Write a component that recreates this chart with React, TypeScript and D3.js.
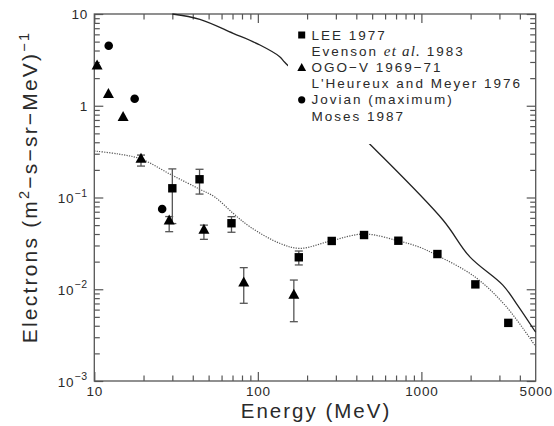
import React, { useRef, useEffect } from "react";
import * as d3 from "d3";

// LEE 1977 (Evenson et al. 1983)
const leeEnergy = [30, 44, 69, 178, 283, 446, 723, 1253, 2138, 3400];
const leeFlux = [0.126, 0.158, 0.0524, 0.0223, 0.0336, 0.039, 0.0338, 0.0242, 0.0113, 0.0043];
const leeLow = [0.052, 0.109, 0.0418, 0.0184, null, null, null, null, null, null];
const leeHigh = [0.205, 0.203, 0.0618, 0.0261, null, null, null, null, null, null];

// OGO-V 1969-71 (L'Heureux and Meyer 1976)
const ogoEnergy = [10.4, 12.2, 15.0, 19.3, 28.7, 46.8, 82, 166];
const ogoFlux = [2.73, 1.34, 0.75, 0.263, 0.0558, 0.0443, 0.0118, 0.00866];
const ogoLow = [null, null, null, 0.22, 0.0424, 0.035, 0.00703, 0.00443];
const ogoHigh = [null, null, null, 0.29, 0.062, 0.05, 0.0172, 0.0126];

// Jovian (maximum), Moses 1987
const jovianEnergy = [12.25, 17.65, 26.0];
const jovianFlux = [4.51, 1.19, 0.075];

// dotted model curve
const modelEnergy = [10, 14, 19.3, 29.7, 43.8, 54.6, 70.6, 89.4, 136, 181, 282, 446, 718, 977, 1236, 2118, 3304, 5000];
const modelFlux = [0.321, 0.298, 0.263, 0.176, 0.124, 0.101, 0.0673, 0.048, 0.0317, 0.0279, 0.0338, 0.04, 0.0338, 0.0287, 0.0236, 0.0137, 0.00646, 0.00237];

// solid curve
const upperEnergy = [30, 44.2, 70.6, 103, 136, 146, 250, 495, 1355, 1972, 3148, 3802, 5000];
const upperFlux = [10, 8.75, 6.16, 4.59, 3.43, 2.98, 1.2, 0.367, 0.0569, 0.0227, 0.0111, 0.00703, 0.0034];

const xTickLabels = [10, 100, 1000, 5000];
const yTickExps = [1, 0, -1, -2, -3];

const legendRows = [
  { symbol: "square", lines: ["LEE 1977", "Evenson|et al.|1983"] },
  { symbol: "triangle", lines: ["OGO\u2212V 1969\u221271", "L'Heureux and Meyer 1976"] },
  { symbol: "circle", lines: ["Jovian (maximum)", "Moses 1987"] },
];

const font = "'Liberation Sans', Arial, Helvetica, sans-serif";
const textColor = "#2a2a2a";
const trianglePath = (s: number) => `M0,${-s * 0.62}L${s * 0.55},${s * 0.38}L${-s * 0.55},${s * 0.38}Z`;

const App = () => {
  const svgRef = useRef<SVGSVGElement>(null);

  useEffect(() => {
    const svg = d3.select(svgRef.current);
    svg.selectAll("*").remove();

    const W = 554;
    const H = 426;
    const left = 94.3, right = 535.7, top = 14, bottom = 381;

    const x = d3.scaleLog().domain([10, 5000]).range([left, right]);
    const y = d3.scaleLog().domain([1e-3, 10]).range([bottom, top]);

    svg.attr("width", W).attr("height", H);
    svg.append("rect").attr("width", W).attr("height", H).attr("fill", "#fff");

    // ticks, all pointing inward
    const majorX = [10, 100, 1000];
    const minorX: number[] = [];
    [10, 100, 1000].forEach((d) => d3.range(2, 10).forEach((m) => d * m < 5000 && minorX.push(d * m)));
    const majorY = [1e-3, 1e-2, 1e-1, 1, 10];
    const minorY: number[] = [];
    [1e-3, 1e-2, 1e-1, 1].forEach((d) => d3.range(2, 10).forEach((m) => minorY.push(d * m)));

    const axisColor = "#555";
    const addAxis = (axis: any, tx: number, ty: number) => {
      const g = svg.append("g").attr("transform", `translate(${tx},${ty})`).call(axis);
      g.select(".domain").remove();
      g.selectAll("text").remove();
      g.selectAll("line").attr("stroke", axisColor).attr("stroke-width", 1.2);
    };
    const axes: [any, number, number, number[], number[]][] = [
      [d3.axisBottom, 0, bottom, minorX, majorX],
      [d3.axisTop, 0, top, minorX, majorX],
      [d3.axisLeft, left, 0, minorY, majorY],
      [d3.axisRight, right, 0, minorY, majorY],
    ];
    axes.forEach(([make, tx, ty, minor, major], i) => {
      const sc = i < 2 ? x : y;
      addAxis(make(sc).tickValues(minor).tickSize(-5.5), tx, ty);
      addAxis(make(sc).tickValues(major).tickSize(-9), tx, ty);
    });

    svg
      .append("rect")
      .attr("x", left)
      .attr("y", top)
      .attr("width", right - left)
      .attr("height", bottom - top)
      .attr("fill", "none")
      .attr("stroke", axisColor)
      .attr("stroke-width", 1.3);

    // curves
    const line = d3
      .line<[number, number]>()
      .x((d) => x(d[0]))
      .y((d) => y(d[1]))
      .curve(d3.curveCatmullRom);

    const plot = svg.append("g");
    plot
      .append("path")
      .datum(modelEnergy.map((e, i) => [e, modelFlux[i]] as [number, number]))
      .attr("d", line)
      .attr("fill", "none")
      .attr("stroke", "#555")
      .attr("stroke-width", 1.2)
      .attr("stroke-dasharray", "1.2,1.3");

    plot
      .append("path")
      .datum(upperEnergy.map((e, i) => [e, upperFlux[i]] as [number, number]))
      .attr("d", line)
      .attr("fill", "none")
      .attr("stroke", "#222")
      .attr("stroke-width", 1.3);

    // error bars
    const errorBars = (en: number[], lo: (number | null)[], hi: (number | null)[]) => {
      en.forEach((e, i) => {
        const l = lo[i], h = hi[i];
        if (l == null || h == null) return;
        const cx = x(e);
        const g = plot.append("g").attr("stroke", "#555").attr("stroke-width", 1.3);
        g.append("line").attr("x1", cx).attr("x2", cx).attr("y1", y(l)).attr("y2", y(h));
        g.append("line").attr("x1", cx - 4).attr("x2", cx + 4).attr("y1", y(l)).attr("y2", y(l));
        g.append("line").attr("x1", cx - 4).attr("x2", cx + 4).attr("y1", y(h)).attr("y2", y(h));
      });
    };
    errorBars(leeEnergy, leeLow, leeHigh);
    errorBars(ogoEnergy, ogoLow, ogoHigh);

    // markers
    leeEnergy.forEach((e, i) => {
      plot
        .append("rect")
        .attr("x", x(e) - 4.2)
        .attr("y", y(leeFlux[i]) - 4.2)
        .attr("width", 8.4)
        .attr("height", 8.4)
        .attr("fill", "#000");
    });
    ogoEnergy.forEach((e, i) => {
      plot
        .append("path")
        .attr("transform", `translate(${x(e)},${y(ogoFlux[i])})`)
        .attr("d", trianglePath(10))
        .attr("fill", "#000");
    });
    jovianEnergy.forEach((e, i) => {
      plot
        .append("circle")
        .attr("cx", x(e))
        .attr("cy", y(jovianFlux[i]))
        .attr("r", 4.3)
        .attr("fill", "#000");
    });

    // legend (white box hides the solid curve behind it)
    const lg = svg.append("g");
    lg.append("rect").attr("x", 288).attr("y", 24).attr("width", 232).attr("height", 120).attr("fill", "#fff");
    const lx = 301.7, tx = 311.5, base0 = 39.5, step = 16.2;
    legendRows.forEach((row, ri) => {
      const b = base0 + step * 2 * ri;
      const cy = b - 4.5;
      if (row.symbol === "square") {
        lg.append("rect").attr("x", lx - 3.5).attr("y", cy - 3.5).attr("width", 7).attr("height", 7).attr("fill", "#000");
      } else if (row.symbol === "triangle") {
        lg.append("path").attr("transform", `translate(${lx},${cy + 0.5})`).attr("d", trianglePath(8)).attr("fill", "#000");
      } else {
        lg.append("circle").attr("cx", lx).attr("cy", cy).attr("r", 3.6).attr("fill", "#000");
      }
      row.lines.forEach((ln, li) => {
        const t = lg
          .append("text")
          .attr("x", tx)
          .attr("y", b + li * step)
          .attr("font-family", font)
          .attr("font-size", 13.5)
          .attr("letter-spacing", 2)
          .attr("fill", textColor);
        const parts = ln.split("|");
        if (parts.length === 3) {
          t.append("tspan").text(parts[0] + " ");
          t.append("tspan")
            .attr("font-family", "'Liberation Serif', 'DejaVu Serif', serif")
            .attr("font-style", "italic")
            .attr("font-size", 15)
            .attr("letter-spacing", 1.2)
            .text(parts[1]);
          t.append("tspan").text(" " + parts[2]);
        } else {
          t.text(ln);
        }
      });
    });

    // tick labels
    xTickLabels.forEach((v) => {
      svg
        .append("text")
        .attr("x", x(v) + 0.5)
        .attr("y", 396)
        .attr("text-anchor", "middle")
        .attr("font-family", font)
        .attr("font-size", 13.5)
        .attr("letter-spacing", 0.8)
        .attr("fill", textColor)
        .text(v);
    });
    yTickExps.forEach((p) => {
      const t = svg
        .append("text")
        .attr("x", 88)
        .attr("text-anchor", "end")
        .attr("font-family", font)
        .attr("font-size", 13.5)
        .attr("letter-spacing", 0.8)
        .attr("fill", textColor);
      const ty = y(Math.pow(10, p));
      if (p === 1) {
        t.attr("y", ty + 5).text("10");
      } else if (p === 0) {
        t.attr("y", ty + 5).text("1");
      } else {
        t.attr("y", ty + 5.5);
        t.append("tspan").text("10");
        t.append("tspan").attr("dy", -6.5).attr("font-size", 10.5).text("\u2212" + -p);
      }
    });

    // axis titles
    svg
      .append("text")
      .attr("x", 316)
      .attr("y", 418)
      .attr("text-anchor", "middle")
      .attr("font-family", font)
      .attr("font-size", 20.5)
      .attr("letter-spacing", 2)
      .attr("fill", textColor)
      .text("Energy (MeV)");

    const yt = svg
      .append("text")
      .attr("transform", "translate(37,187) rotate(-90)")
      .attr("text-anchor", "middle")
      .attr("font-family", font)
      .attr("font-size", 21)
      .attr("letter-spacing", 2.2)
      .attr("fill", textColor);
    yt.append("tspan").text("Electrons (m");
    yt.append("tspan").attr("dy", -8).attr("font-size", 14.5).text("2");
    yt.append("tspan").attr("dy", 8).text("\u2212s\u2212sr\u2212MeV)");
    yt.append("tspan").attr("dy", -8).attr("font-size", 14.5).text("\u22121");
  }, []);

  return <svg ref={svgRef} style={{ position: "absolute", left: 0, top: 0 }}></svg>;
};

export default App;
